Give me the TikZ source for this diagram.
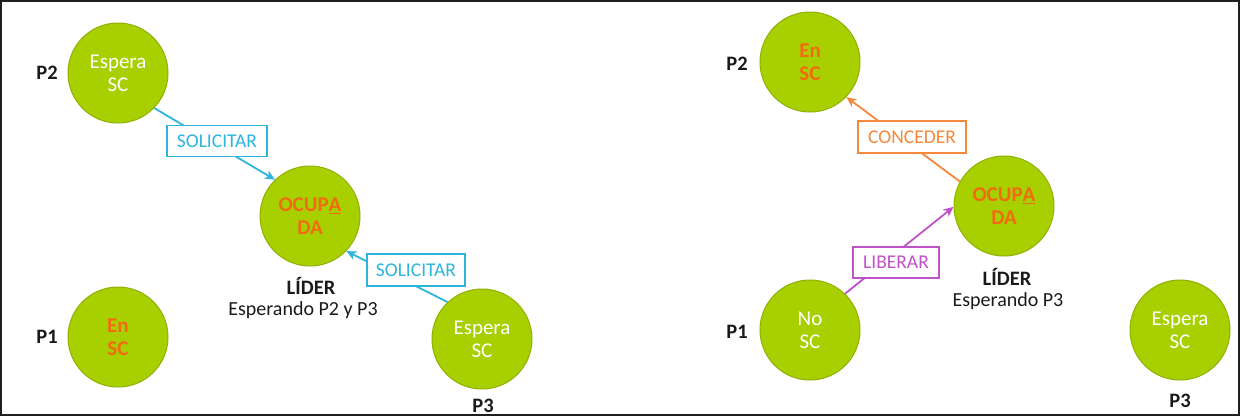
\documentclass[tikz,border=0pt]{standalone}
\usepackage{fontspec}
\setmainfont{Carlito}
\usetikzlibrary{arrows.meta}
\definecolor{cgreen}{HTML}{A8D000}
\definecolor{cgreenb}{HTML}{8FB000}
\definecolor{corange}{HTML}{F26A10}
\definecolor{carrow}{HTML}{F5883A}
\definecolor{ccyan}{HTML}{2DB5DC}
\definecolor{cpurple}{HTML}{C052C8}
\definecolor{cframe}{HTML}{1E1E1E}
\definecolor{ctext}{HTML}{1A1A1A}
\begin{document}
\begin{tikzpicture}[x=1pt,y=-1pt,
 state/.style={circle, fill=cgreen, draw=cgreenb, line width=1pt, minimum size=100pt, inner sep=0pt, align=center, font=\fontsize{21}{23}\selectfont},
 wtext/.style={text=white},
 otext/.style={text=corange, font=\fontsize{21}{23}\selectfont\bfseries},
 ptag/.style={font=\fontsize{20.5}{24}\selectfont\bfseries, text=ctext},
 note/.style={font=\fontsize{20}{22}\selectfont, text=ctext},
 msg/.style={draw, fill=white, line width=1.3pt, inner sep=0pt, font=\fontsize{19.5}{22}\selectfont, minimum height=31pt},
 conn/.style={line width=1.8pt, -{Stealth[length=10pt,width=9pt,inset=3pt]}},
]
\useasboundingbox (0,0) rectangle (1240,416);
\draw[cframe, line width=2pt] (1,1) rectangle (1239,415);

% ---------- left panel ----------
\node[state, wtext] (lp2) at (118,73) {Espera\\SC};
\node[state, otext] (lp1) at (118,337) {En\\SC};
\node[state, otext] (locc) at (310,216) {OCUP\underline{A}\\DA};
\node[state, wtext] (lp3) at (482,339) {Espera\\SC};

\node[ptag] (llp2) at (47,73) {P2};
\node[ptag] (llp1) at (47,337) {P1};
\node[ptag] (llp3) at (483,406) {P3};
\node[ptag] (llider) at (311,286) {LÍDER};
\node[note] (lwait) at (303,310) {Esperando P2 y P3};

\draw[conn, ccyan] (lp2.-44) -- (locc.134);
\draw[conn, ccyan] (lp3.133) -- (locc.-44);
\node[msg, draw=ccyan, text=ccyan, minimum width=100pt] (lsol1) at (217,141) {SOLICITAR};
\node[msg, draw=ccyan, text=ccyan, minimum width=98pt, minimum height=32pt] (lsol2) at (416,270) {SOLICITAR};

% ---------- right panel ----------
\node[state, otext] (rp2) at (810,62) {En\\SC};
\node[state, wtext] (rp1) at (810,330) {No\\SC};
\node[state, otext] (rocc) at (1004,206) {OCUP\underline{A}\\DA};
\node[state, wtext] (rp3) at (1180,330) {Espera\\SC};

\node[ptag] (rlp2) at (737,64) {P2};
\node[ptag] (rlp1) at (737,332) {P1};
\node[ptag] (rlp3) at (1180,401) {P3};
\node[ptag] (rlider) at (1007,277) {LÍDER};
\node[note] (rwait) at (1008,301) {Esperando P3};

\draw[conn, carrow] (rocc.151) -- (rp2.-44);
\draw[conn, cpurple] (rp1.46) -- (rocc.181);
\node[msg, draw=carrow, text=carrow, minimum width=108pt, minimum height=32pt] (rcon) at (912,137) {CONCEDER};
\node[msg, draw=cpurple, text=cpurple, minimum width=86pt] (rlib) at (896,262.5) {LIBERAR};
\end{tikzpicture}
\end{document}
